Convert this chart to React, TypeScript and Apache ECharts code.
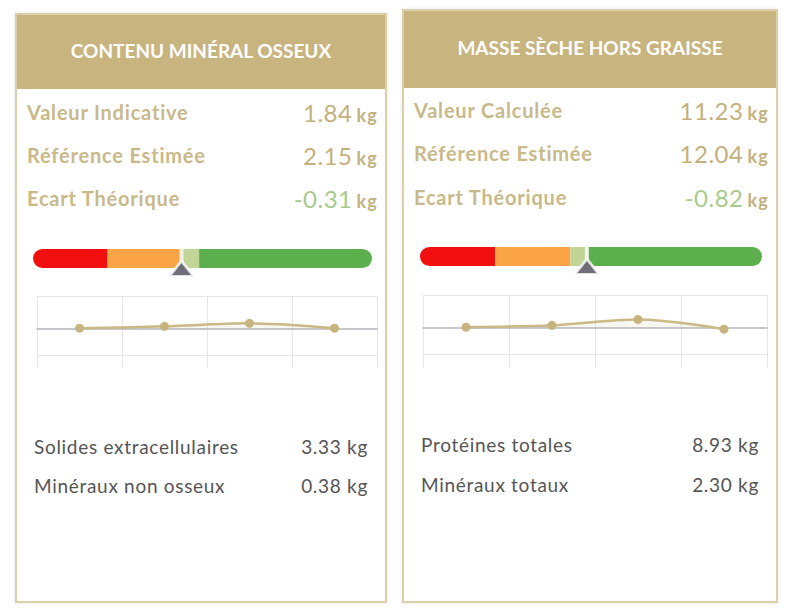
import { useEffect, useRef } from "react";
import * as echarts from "echarts";

// card 1 : contenu minéral osseux
const title1 = "CONTENU MINÉRAL OSSEUX";
const mainLabels1 = ["Valeur Indicative", "Référence Estimée", "Ecart Théorique"];
const mainValues1 = [1.84, 2.15, -0.31];
const subLabels1 = ["Solides extracellulaires", "Minéraux non osseux"];
const subValues1 = [3.33, 0.38];
const marker1 = 43.8;
const trend1 = [0.01, 0.04, 0.09, 0.01];

// card 2 : masse sèche hors graisse
const title2 = "MASSE SÈCHE HORS GRAISSE";
const mainLabels2 = ["Valeur Calculée", "Référence Estimée", "Ecart Théorique"];
const mainValues2 = [11.23, 12.04, -0.82];
const subLabels2 = ["Protéines totales", "Minéraux totaux"];
const subValues2 = [8.93, 2.3];
const marker2 = 48.8;
const trend2 = [0.01, 0.04, 0.14, -0.025];

// shared scales
const gaugeBands = [22, 44, 49, 100];
const gaugeColors = ["#f20f0f", "#fba447", "#c1d597", "#5caf4d"];
const trendCategories = ["P1", "P2", "P3", "P4"];
const trendMin = -1.45;
const trendMax = 0.55;

const gold = "#c8b47f";
const labelColor = "#c9b98a";

type Layout = {
  x: number;
  y: number;
  w: number;
  h: number;
  headerH: number;
  rowsY: number[];
  subY: number[];
  barL: number;
  barR: number;
  barY: number;
  gridL: number;
  gridR: number;
  gridTop: number;
};

const layout1: Layout = {
  x: 15, y: 13, w: 372, h: 590, headerH: 76,
  rowsY: [112, 155, 198], subY: [446, 485],
  barL: 33, barR: 372, barY: 258.5,
  gridL: 37, gridR: 377, gridTop: 296,
};
const layout2: Layout = {
  x: 402, y: 9, w: 376, h: 594, headerH: 79,
  rowsY: [110, 153, 197], subY: [444, 484],
  barL: 420, barR: 762, barY: 256.5,
  gridL: 423, gridR: 767, gridTop: 295,
};

const chartTop = 235;
const chartBottom = 367;
const chartFullH = 200;

function GaugeTrend({ lay, marker, trend }: { lay: Layout; marker: number; trend: number[] }) {
  const ref = useRef<HTMLDivElement | null>(null);

  useEffect(() => {
    if (!ref.current) return;
    const chart = echarts.init(ref.current, undefined, { renderer: "svg" });
    const widths = gaugeBands.map((b, i) => b - (i ? gaugeBands[i - 1] : 0));
    const r = 9.5;
    chart.setOption({
      animation: false,
      grid: [
        { left: lay.barL - lay.x, width: lay.barR - lay.barL, top: lay.barY - r - chartTop, height: 2 * r },
        { left: lay.gridL - lay.x, width: lay.gridR - lay.gridL, top: lay.gridTop - chartTop, height: 119 },
      ],
      xAxis: [
        { gridIndex: 0, type: "value", min: 0, max: 100, show: false },
        {
          gridIndex: 1,
          type: "category",
          data: trendCategories,
          boundaryGap: true,
          axisLabel: { show: false },
          axisTick: { show: false },
          axisLine: { onZero: true, lineStyle: { color: "#b4b4be", width: 1.5 } },
          splitLine: { show: true, lineStyle: { color: "#e4e4ec", width: 1 } },
        },
      ],
      yAxis: [
        { gridIndex: 0, type: "category", data: ["g"], show: false },
        {
          gridIndex: 1,
          type: "value",
          min: trendMin,
          max: trendMax,
          interval: 1,
          axisLabel: { show: false },
          axisTick: { show: false },
          axisLine: { show: false },
          splitLine: { show: true, lineStyle: { color: "#e4e4ec", width: 1 } },
        },
      ],
      series: [
        ...widths.map((w, i) => ({
          type: "bar",
          xAxisIndex: 0,
          yAxisIndex: 0,
          stack: "g",
          barWidth: 2 * r,
          data: [w],
          itemStyle: {
            color: gaugeColors[i],
            borderRadius: i === 0 ? [r, 0, 0, r] : i === widths.length - 1 ? [0, r, r, 0] : 0,
          },
        })),
        {
          type: "scatter",
          xAxisIndex: 0,
          yAxisIndex: 0,
          data: [[marker, 0]],
          symbol: "rect",
          symbolSize: [4, 2 * r],
          itemStyle: { color: "#ffffff" },
        },
        {
          type: "scatter",
          xAxisIndex: 0,
          yAxisIndex: 0,
          data: [[marker, 0]],
          symbol: "triangle",
          symbolSize: [24, 15],
          symbolOffset: [0, 10],
          itemStyle: { color: "#4b4b58", borderColor: "#ffffff", borderWidth: 2.5 },
        },
        {
          type: "line",
          xAxisIndex: 1,
          yAxisIndex: 1,
          data: trend,
          smooth: 0.35,
          symbol: "circle",
          symbolSize: 9,
          lineStyle: { color: "#cbb985", width: 2.5 },
          itemStyle: { color: "#c6b37e" },
          areaStyle: { color: "rgba(203,185,133,0.18)" },
        },
      ],
    });
    return () => chart.dispose();
  }, [lay, marker, trend]);

  return (
    <div
      style={{
        position: "absolute",
        left: lay.x,
        top: chartTop,
        width: lay.w,
        height: chartBottom - chartTop,
        overflow: "hidden",
      }}
    >
      <div ref={ref} style={{ width: lay.w, height: chartFullH }} />
    </div>
  );
}

function Card({
  lay, title, labels, values, subLabels, subValues, marker, trend,
}: {
  lay: Layout; title: string; labels: string[]; values: number[];
  subLabels: string[]; subValues: number[]; marker: number; trend: number[];
}) {
  return (
    <>
      <div
        style={{
          position: "absolute",
          left: lay.x,
          top: lay.y,
          width: lay.w,
          height: lay.h,
          boxSizing: "border-box",
          border: "2px solid #dccfac",
          boxShadow: "0 0 3px rgba(0,0,0,0.12)",
          background: "#fff",
        }}
      >
        <div
          style={{
            height: lay.headerH - 2,
            background: gold,
            color: "#fff",
            display: "flex",
            alignItems: "center",
            justifyContent: "center",
            fontWeight: 700,
            fontSize: 19,
            paddingBottom: 4,
            boxSizing: "border-box",
          }}
        >
          {title}
        </div>
      </div>
      {labels.map((l, i) => (
        <div
          key={l}
          style={{
            position: "absolute",
            left: lay.x + 12,
            width: lay.w - 21,
            top: lay.rowsY[i] - 15,
            height: 30,
            display: "flex",
            alignItems: "center",
            justifyContent: "space-between",
            color: labelColor,
          }}
        >
          <span style={{ fontWeight: 700, fontSize: 20, letterSpacing: 0.8 }}>{l}</span>
          <span style={{ display: "flex", alignItems: "baseline" }}>
            <span style={{ fontSize: 24, letterSpacing: 0.5, color: values[i] < 0 ? "#a8cb8b" : "#c4b07c" }}>
              {values[i].toFixed(2)}
            </span>
            <span style={{ fontSize: 18, fontWeight: 700, letterSpacing: 1.2, marginLeft: 4, color: "#c4b180" }}>kg</span>
          </span>
        </div>
      ))}
      <GaugeTrend lay={lay} marker={marker} trend={trend} />
      {subLabels.map((l, i) => (
        <div
          key={l}
          style={{
            position: "absolute",
            left: lay.x + 19,
            width: lay.w - 38,
            top: lay.subY[i] - 14,
            height: 28,
            display: "flex",
            alignItems: "center",
            justifyContent: "space-between",
            color: "#555555",
            fontSize: 19,
            letterSpacing: 0.7,
          }}
        >
          <span>{l}</span>
          <span>{subValues[i].toFixed(2)} kg</span>
        </div>
      ))}
    </>
  );
}

export default function App() {
  return (
    <div
      style={{
        position: "absolute",
        left: 0,
        top: 0,
        width: 790,
        height: 613,
        background: "#fff",
        fontFamily: "Lato, 'Open Sans', sans-serif",
        overflow: "hidden",
      }}
    >
      <Card
        lay={layout1} title={title1} labels={mainLabels1} values={mainValues1}
        subLabels={subLabels1} subValues={subValues1} marker={marker1} trend={trend1}
      />
      <Card
        lay={layout2} title={title2} labels={mainLabels2} values={mainValues2}
        subLabels={subLabels2} subValues={subValues2} marker={marker2} trend={trend2}
      />
    </div>
  );
}
